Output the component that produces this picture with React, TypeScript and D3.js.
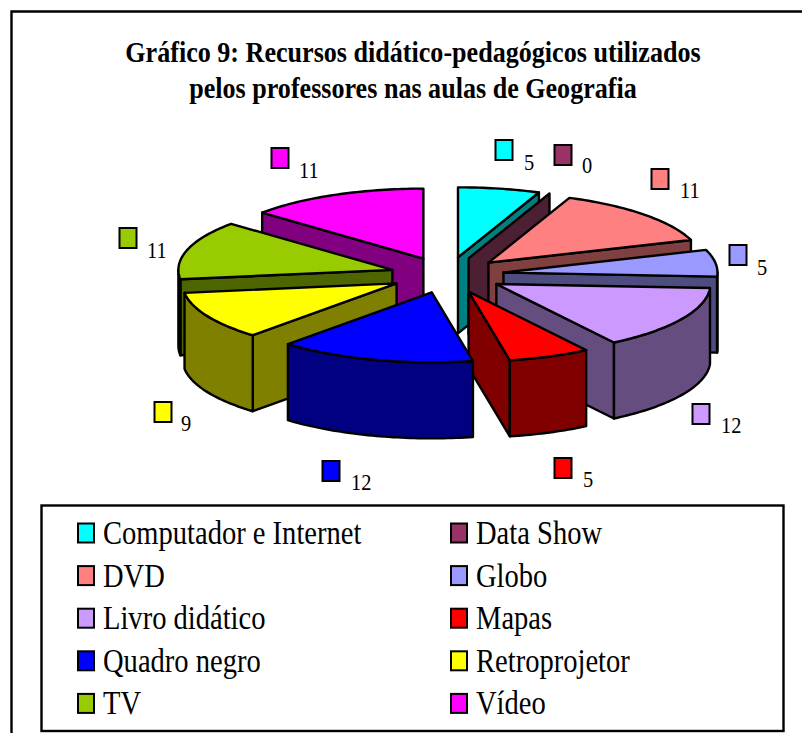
import React from "react";
import * as d3 from "d3";

const categories = ["Computador e Internet","Data Show","DVD","Globo","Livro didático","Mapas","Quadro negro","Retroprojetor","TV","Vídeo"];
const values = [5,0,11,5,12,5,12,9,11,11];
const topColors = ["#00FFFF","#993366","#FF8080","#9999FF","#CC99FF","#FF0000","#0000FF","#FFFF00","#99CC00","#FF00FF"];
const wallColors = ["#008080","#4D1F33","#804040","#4D4D80","#664D80","#800000","#000080","#808000","#4D6600","#800080"];
const drawOrder = [9,8,7,0,1,2,3,4,5,6];
const titleLines = ["Gráfico 9: Recursos didático-pedagógicos utilizados","pelos professores nas aulas de Geografia"];
// swatch centre beside each pie value, with the label position
const calloutSwatch = [[504,150],[563,155],[660,179],[738,255],[701,414],[563,468],[331,471],[163,412],[128,238],[280,158]];
const calloutText = [[524,170],[582,173],[680,198],[757,275],[721,433],[583,487],[351,490],[181,431],[147,258],[299,178]];

const CX = 447, CY = 275, RX = 214, RY = 70, EX = 57, EY = 18, DEPTH = 76;
const FONT = "'Liberation Serif','Times New Roman',serif";

const pie = d3.pie<number>().sort(null).startAngle(0).endAngle(2*Math.PI);
const arcs = pie(values);
const xs = d3.scaleLinear().domain([-1,1]).range([-RX,RX]);
const ys = d3.scaleLinear().domain([-1,1]).range([-RY,RY]);

type P = [number,number];
const pts = (apex:P,a0:number,a1:number):P[] => {
  const n = Math.max(1,Math.ceil(Math.abs(a1-a0)/0.02));
  return d3.range(n+1).map(i=>{
    const t = a0+(a1-a0)*i/n;
    return [apex[0]+xs(Math.sin(t)), apex[1]-ys(Math.cos(t))] as P;
  });
};
const line = d3.line<P>();
const down = (p:P):P => [p[0],p[1]+DEPTH];
const closed = (p:P[]) => line(p)+"Z";

function Slice({i}:{i:number}) {
  const a = arcs[i];
  const mid = (a.startAngle+a.endAngle)/2;
  const apex:P = [CX+EX*Math.sin(mid), CY-EY*Math.cos(mid)];
  const rim = pts(apex,a.startAngle,a.endAngle);
  const s = rim[0], e = rim[rim.length-1];
  const walls:string[] = [];
  if (s[0] < apex[0]-0.5) walls.push(closed([apex,s,down(s),down(apex)]));
  if (e[0] > apex[0]+0.5) walls.push(closed([e,apex,down(apex),down(e)]));
  const f0 = Math.max(a.startAngle,Math.PI/2), f1 = Math.min(a.endAngle,3*Math.PI/2);
  if (f1>f0) {
    const front = pts(apex,f0,f1);
    walls.push(closed([...front,...front.slice().reverse().map(down)]));
  }
  const common = {stroke:"#000",strokeWidth:2.4,strokeLinejoin:"round" as const};
  return <g>
    {walls.map((d,k)=><path key={k} d={d} fill={wallColors[i]} {...common}/>)}
    {a.endAngle>a.startAngle && <path d={closed([apex,...rim])} fill={topColors[i]} {...common}/>}
  </g>;
}

function Txt({x,y,size,sx,children}:{x:number,y:number,size:number,sx:number,children:React.ReactNode}) {
  return <text transform={`translate(${x},${y}) scale(${sx},1)`} fontFamily={FONT} fontSize={size} fill="#000">{children}</text>;
}

export default function App() {
  return <svg width={802} height={733} style={{position:"absolute",left:0,top:0}}>
    <rect width={802} height={733} fill="#fff"/>
    <path d="M11.5,733V11.5H802" fill="none" stroke="#000" strokeWidth={2.4}/>
    {titleLines.map((t,i)=><text key={i} transform={`translate(413,${62+i*36}) scale(0.9,1)`} textAnchor="middle" fontFamily={FONT} fontSize={29} fontWeight="bold">{t}</text>)}
    {drawOrder.map(i=><Slice key={i} i={i}/>)}
    {values.map((v,i)=><g key={i}>
      <rect x={calloutSwatch[i][0]-8.5} y={calloutSwatch[i][1]-10} width={17} height={20} fill={topColors[i]} stroke="#000" strokeWidth={2}/>
      <Txt x={calloutText[i][0]} y={calloutText[i][1]} size={24} sx={0.85}>{v}</Txt>
    </g>)}
    <rect x={41.5} y={505.5} width={742} height={225.5} fill="#fff" stroke="#000" strokeWidth={2.4}/>
    {categories.map((c,i)=>{
      const col = i%2, row = Math.floor(i/2);
      const y = 533+row*42.6;
      const x = col?451:78;
      return <g key={i}>
        <rect x={x} y={y-9.5} width={16} height={19} fill={topColors[i]} stroke="#000" strokeWidth={2}/>
        <Txt x={x+25} y={y+11} size={34} sx={0.84}>{c}</Txt>
      </g>;
    })}
  </svg>;
}
